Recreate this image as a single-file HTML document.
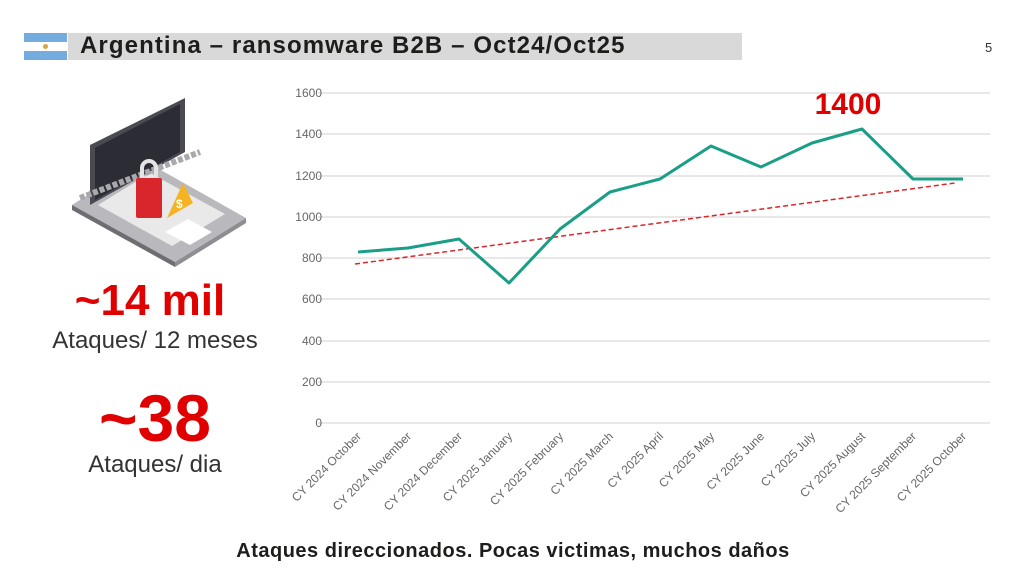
<!DOCTYPE html>
<html><head><meta charset="utf-8"><style>
body{margin:0;width:1024px;height:576px;background:#fff;font-family:"Liberation Sans",sans-serif;overflow:hidden;position:relative}
.t{position:absolute;white-space:nowrap}
</style></head><body>
<svg width="1024" height="576" style="position:absolute;left:0;top:0">
<rect x="24" y="33" width="43" height="9" fill="#74acdf"/><rect x="24" y="42" width="43" height="9" fill="#fff"/><rect x="24" y="51" width="43" height="9" fill="#74acdf"/>
<circle cx="45.5" cy="46.5" r="2.5" fill="#d9a441"/>
<rect x="68" y="33" width="674" height="27" fill="#d9d9d9"/>
<polygon points="72,205 175,262 246,218 143,160" fill="#b9b9bd"/>
<polygon points="72,205 72,210 175,267 175,262" fill="#6d6d72"/>
<polygon points="175,262 175,267 246,223 246,218" fill="#8e8e92"/>
<polygon points="98,205 172,246 225,214 150,173" fill="#e9e9ea"/>
<polygon points="165,232 190,245 212,232 188,219" fill="#fff"/>
<polygon points="90,145 90,205 185,152 185,98" fill="#4a4a52"/>
<polygon points="95,148 95,200 180,152 180,104" fill="#2c2c34"/>
<path d="M80,198 L200,152" stroke="#a8a8ad" stroke-width="6" stroke-dasharray="5 2"/>
<path d="M142,180 v-12 a7 7 0 0 1 14 0 v12" fill="none" stroke="#e4e4e4" stroke-width="4"/>
<rect x="136" y="178" width="26" height="40" rx="2" fill="#d9262c"/>
<polygon points="167,218 193,203 183,183" fill="#f5b324"/>
<text x="176" y="208" font-size="12" fill="#fff" font-weight="bold">$</text>
<g stroke="#d9d9d9" stroke-width="1.2">
<line x1="318" x2="990" y1="93" y2="93"/><line x1="318" x2="990" y1="134" y2="134"/><line x1="318" x2="990" y1="176" y2="176"/><line x1="318" x2="990" y1="217" y2="217"/><line x1="318" x2="990" y1="258" y2="258"/><line x1="318" x2="990" y1="299" y2="299"/><line x1="318" x2="990" y1="341" y2="341"/><line x1="318" x2="990" y1="382" y2="382"/><line x1="318" x2="990" y1="423" y2="423"/>
</g>
<g font-size="12" fill="#666" text-anchor="end">
<text x="322" y="97">1600</text><text x="322" y="138">1400</text><text x="322" y="180">1200</text><text x="322" y="221">1000</text><text x="322" y="262">800</text><text x="322" y="303">600</text><text x="322" y="345">400</text><text x="322" y="386">200</text><text x="322" y="427">0</text>
</g>
<line x1="355" y1="264" x2="955" y2="183" stroke="#d9262c" stroke-width="1.5" stroke-dasharray="5 3"/>
<polyline fill="none" stroke="#1a9e86" stroke-width="3" stroke-linejoin="round" points="358,252 408,248 459,239 509,283 560,229 610,192 660,179 711,146 761,167 812,143 862,129 913,179 963,179"/>
<text x="848" y="114" font-size="30" font-weight="bold" fill="#e00000" text-anchor="middle">1400</text>
<g font-size="12" fill="#666" text-anchor="end">
<text transform="translate(362,437) rotate(-45)">CY 2024 October</text>
<text transform="translate(412,437) rotate(-45)">CY 2024 November</text>
<text transform="translate(463,437) rotate(-45)">CY 2024 December</text>
<text transform="translate(513,437) rotate(-45)">CY 2025 January</text>
<text transform="translate(564,437) rotate(-45)">CY 2025 February</text>
<text transform="translate(614,437) rotate(-45)">CY 2025 March</text>
<text transform="translate(664,437) rotate(-45)">CY 2025 April</text>
<text transform="translate(715,437) rotate(-45)">CY 2025 May</text>
<text transform="translate(765,437) rotate(-45)">CY 2025 June</text>
<text transform="translate(816,437) rotate(-45)">CY 2025 July</text>
<text transform="translate(866,437) rotate(-45)">CY 2025 August</text>
<text transform="translate(917,437) rotate(-45)">CY 2025 September</text>
<text transform="translate(967,437) rotate(-45)">CY 2025 October</text>
</g>
</svg>
<div class="t" style="left:80px;top:32px;font-size:24px;letter-spacing:1.1px;font-weight:bold;color:#1d1d1b">Argentina – ransomware B2B – Oct24/Oct25</div>
<div class="t" style="left:985px;top:40px;font-size:13px;color:#333">5</div>
<div class="t" style="left:0;width:300px;text-align:center;top:276px;font-size:44px;font-weight:bold;color:#e00000">~14 mil</div>
<div class="t" style="left:5px;width:300px;text-align:center;top:327px;font-size:24px;color:#333">Ataques/ 12 meses</div>
<div class="t" style="left:5px;width:300px;text-align:center;top:380px;font-size:66px;font-weight:bold;color:#e00000">~38</div>
<div class="t" style="left:5px;width:300px;text-align:center;top:451px;font-size:24px;color:#333">Ataques/ dia</div>
<div class="t" style="left:0;width:1026px;text-align:center;top:540px;font-size:20px;letter-spacing:0.5px;font-weight:bold;color:#1d1d1b">Ataques direccionados. Pocas victimas, muchos daños</div>
</body></html>
